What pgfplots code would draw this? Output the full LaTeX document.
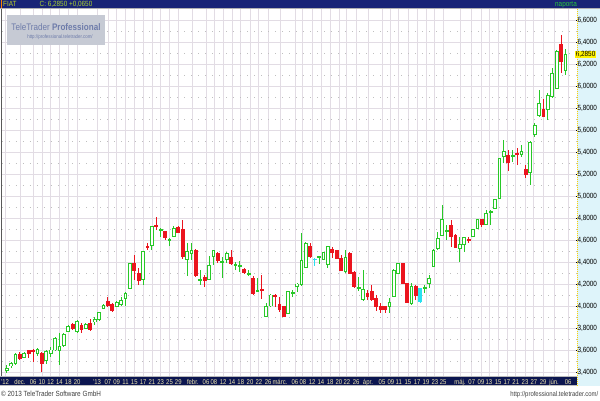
\documentclass[border=0pt]{standalone}
\usepackage{fontspec}
\setmainfont{Liberation Sans}
\newfontfamily\nf{Liberation Sans}[FakeStretch=0.85]
\usepackage{pgfplots}
\pgfplotsset{compat=1.18}
\usepackage{pgfplotstable}

\definecolor{cgreen}{RGB}{40,200,40}
\definecolor{cred}{RGB}{235,20,30}
\definecolor{ccyan}{RGB}{40,225,240}
\definecolor{hdr}{RGB}{24,36,118}
\definecolor{datebar}{RGB}{12,22,80}
\definecolor{gridc}{RGB}{226,220,228}
\definecolor{panel}{RGB}{222,244,250}
\definecolor{lbl}{RGB}{238,230,175}
\definecolor{wmbox}{RGB}{198,202,212}
\definecolor{wmtext}{RGB}{110,124,170}

\pgfplotstableread{
x o h l c
0 3.418 3.464 3.391 3.432
1 3.455 3.491 3.436 3.473
2 3.473 3.570 3.464 3.555
4 3.534 3.585 3.525 3.564
7 3.570 3.618 3.545 3.606
9 3.509 3.600 3.473 3.585
10 3.570 3.630 3.539 3.600
11 3.600 3.721 3.594 3.706
12 3.594 3.752 3.464 3.630
13 3.639 3.752 3.630 3.745
14 3.766 3.824 3.761 3.812
16 3.766 3.873 3.757 3.857
18 3.797 3.843 3.788 3.834
20 3.861 3.897 3.827 3.873
21 3.873 3.948 3.867 3.939
22 3.979 4.018 3.970 4.009
25 3.994 4.045 3.988 4.030
26 4.018 4.085 4.000 4.048
27 4.070 4.130 4.000 4.115
28 4.161 4.394 4.152 4.388
31 4.245 4.500 4.191 4.494
33 4.548 4.727 4.509 4.721
35 4.686 4.706 4.630 4.695
37 4.600 4.615 4.548 4.609
38 4.630 4.727 4.625 4.706
41 4.425 4.570 4.273 4.494
42 4.473 4.575 4.418 4.509
44 4.232 4.327 4.191 4.241
46 4.243 4.455 4.236 4.364
47 4.448 4.509 4.373 4.503
49 4.400 4.448 4.252 4.409
50 4.425 4.494 4.388 4.473
52 4.368 4.403 4.327 4.377
53 4.355 4.412 4.312 4.364
55 4.286 4.327 4.273 4.295
57 4.136 4.252 4.130 4.145
59 3.903 4.024 3.897 3.994
60 4.000 4.109 3.994 4.100
64 3.934 4.139 3.927 4.130
65 4.111 4.145 4.085 4.120
66 4.173 4.206 4.130 4.200
67 4.191 4.661 4.185 4.412
68 4.348 4.585 4.343 4.570
71 4.438 4.455 4.382 4.447
72 4.425 4.494 4.418 4.485
73 4.373 4.545 4.343 4.539
77 4.312 4.509 4.303 4.443
80 4.156 4.266 4.139 4.165
81 4.055 4.327 4.048 4.152
87 3.994 4.070 3.939 4.030
88 4.085 4.334 4.079 4.327
89 4.297 4.394 4.291 4.388
92 4.024 4.206 4.009 4.175
95 4.156 4.191 4.115 4.165
96 4.206 4.282 4.161 4.252
97 4.357 4.515 4.352 4.509
98 4.524 4.675 4.509 4.615
99 4.645 4.918 4.636 4.788
100 4.680 4.736 4.600 4.689
103 4.524 4.630 4.403 4.555
104 4.555 4.630 4.494 4.625
106 4.630 4.703 4.625 4.697
107 4.706 4.794 4.700 4.788
109 4.745 4.873 4.739 4.843
110 4.853 4.873 4.736 4.862
111 4.888 4.975 4.882 4.970
112 4.979 5.348 4.973 5.343
113 5.355 5.509 5.300 5.409
115 5.359 5.418 5.312 5.368
117 5.373 5.464 5.355 5.409
119 5.218 5.500 5.100 5.482
120 5.555 5.661 5.539 5.645
121 5.736 5.964 5.721 5.843
123 5.782 5.936 5.691 5.918
124 5.903 6.161 5.891 6.115
125 5.979 6.327 5.976 6.312
127 6.145 6.334 6.100 6.285
}\up

\pgfplotstableread{
x o h l c
3 3.555 3.585 3.509 3.525
5 3.594 3.600 3.527 3.570
6 3.600 3.606 3.494 3.585
8 3.564 3.585 3.397 3.479
15 3.834 3.843 3.782 3.797
17 3.827 3.848 3.752 3.788
19 3.843 3.879 3.775 3.782
23 4.039 4.085 3.994 4.000
24 4.018 4.030 3.948 3.957
29 4.388 4.464 4.236 4.327
30 4.297 4.345 4.191 4.236
32 4.545 4.575 4.509 4.534
34 4.736 4.812 4.691 4.721
36 4.675 4.685 4.600 4.621
39 4.712 4.727 4.661 4.670
40 4.697 4.782 4.425 4.448
43 4.509 4.515 4.266 4.273
45 4.257 4.282 4.170 4.236
48 4.479 4.494 4.388 4.418
51 4.443 4.509 4.373 4.382
54 4.334 4.343 4.291 4.303
56 4.252 4.273 4.100 4.115
58 4.152 4.282 4.061 4.139
61 4.100 4.109 3.988 4.085
62 4.018 4.085 3.948 3.964
63 3.994 4.000 3.903 3.909
69 4.545 4.570 4.434 4.448
74 4.515 4.539 4.434 4.485
75 4.503 4.509 4.425 4.434
76 4.434 4.464 4.321 4.327
78 4.479 4.494 4.291 4.297
79 4.303 4.321 4.161 4.175
82 4.115 4.145 4.055 4.085
83 4.130 4.191 4.045 4.055
84 4.064 4.100 3.955 3.991
85 3.994 4.024 3.934 3.970
86 3.991 4.000 3.934 3.964
90 4.388 4.394 4.200 4.206
91 4.206 4.212 4.024 4.030
93 4.175 4.191 4.055 4.091
101 4.736 4.782 4.539 4.630
102 4.645 4.652 4.527 4.534
105 4.606 4.625 4.570 4.594
108 4.788 4.794 4.721 4.745
114 5.364 5.418 5.227 5.309
116 5.382 5.434 5.282 5.373
118 5.243 5.282 5.164 5.191
122 5.782 5.879 5.715 5.727
126 6.373 6.464 6.115 6.220
}\down

\pgfplotstableread{
x o h l c
70 4.425 4.434 4.364 4.425
94 4.161 4.164 4.030 4.039
}\flat

\begin{document}
\begin{tikzpicture}
\useasboundingbox (0pt,0pt) rectangle (600pt,400pt);
\fill[white] (0pt,0pt) rectangle (600pt,400pt);
\fill[panel] (577pt,14pt) rectangle (600pt,391.5pt);
\fill[datebar] (0pt,14pt) rectangle (577pt,24pt);
\draw[gray!55, line width=0.6pt] (0pt,23.7pt) -- (577pt,23.7pt);
\draw[gray!50, line width=0.5pt] (0pt,14.3pt) -- (577pt,14.3pt);
\begin{axis}[
  at={(2pt,24pt)}, anchor=south west,
  scale only axis, width=575pt, height=367.5pt,
  xmin=-1.068, xmax=129.61, ymin=3.3636, ymax=6.7045,
  axis line style={draw=none},
  xtick={-0.4,3,6,8,10,12,14,16,20.5,23,25,27,29,31,33,35,37,39,42.3,45.3,47.1,49.2,51.2,53.2,55.3,57.3,59.4,62.1,65.5,67.3,69.4,71.4,73.5,75.5,77.3,79.4,82.1,85.3,87.3,89.1,91.2,93.3,95.3,97.3,99.2,103,105.7,107.8,109.6,111.7,113.7,115.7,117.8,119.8,121.9,124.4,127.6},
  xticklabels={’12,dec.,06,10,12,14,18,20,’13,07,09,11,15,17,21,23,25,29,febr.,06,08,12,14,18,20,22,26,márc.,06,08,12,14,18,20,22,26,ápr.,05,09,11,15,17,19,23,25,máj.,07,09,13,15,17,21,23,27,29,jún.,06},
  xtick style={draw=none},
  xticklabel style={font=\nf\fontsize{7}{8}\selectfont, text=lbl, anchor=base, yshift=-8.6pt},
  ytick={3.4,3.6,3.8,4.0,4.2,4.4,4.6,4.8,5.0,5.2,5.4,5.6,5.8,6.0,6.2,6.4,6.6},
  minor ytick={3.5,3.7,3.9,4.1,4.3,4.5,4.7,4.9,5.1,5.3,5.5,5.7,5.9,6.1,6.3,6.5},
  yticklabel pos=right, ytick pos=right,
  yticklabel style={font=\nf\fontsize{7.5}{8}\selectfont, text=black, anchor=west, xshift=-3pt,
    /pgf/number format/fixed, /pgf/number format/fixed zerofill,
    /pgf/number format/precision=4, /pgf/number format/use comma,
    /pgf/number format/assume math mode=true},
  ytick style={black, line width=0.7pt}, major tick length=1.2pt, minor tick length=0pt,
  xmajorgrids, ymajorgrids, yminorgrids,
  major grid style={gridc, line width=0.7pt},
  minor grid style={gray!50, line width=0.6pt, dash pattern=on 0.6pt off 6.4pt},
  extra y ticks={6.285},
  extra y tick style={grid=none, yticklabel style={fill=yellow, inner sep=0.6pt, xshift=1pt}},
]
% wicks
\addplot[forget plot, draw=none, mark=none, error bars/.cd, y dir=both, y explicit, error mark=none,
  error bar style={draw=cgreen, line width=1pt}]
  table[x=x, y expr={(\thisrow{h}+\thisrow{l})/2}, y error expr={(\thisrow{h}-\thisrow{l})/2}] {\up};
\addplot[forget plot, draw=none, mark=none, error bars/.cd, y dir=both, y explicit, error mark=none,
  error bar style={draw=cred, line width=1pt}]
  table[x=x, y expr={(\thisrow{h}+\thisrow{l})/2}, y error expr={(\thisrow{h}-\thisrow{l})/2}] {\down};
\addplot[forget plot, draw=none, mark=none, error bars/.cd, y dir=both, y explicit, error mark=none,
  error bar style={draw=ccyan, line width=1pt}]
  table[x=x, y expr={(\thisrow{h}+\thisrow{l})/2}, y error expr={(\thisrow{h}-\thisrow{l})/2}] {\flat};
% bodies
\addplot[forget plot, draw=none, mark=none, error bars/.cd, y dir=both, y explicit, error mark=none,
  error bar style={draw=cgreen, line width=3.8pt, line cap=butt}]
  table[x=x, y expr={(\thisrow{o}+\thisrow{c})/2}, y error expr={abs(\thisrow{c}-\thisrow{o})/2+0.0045}] {\up};
\addplot[forget plot, draw=none, mark=none, error bars/.cd, y dir=both, y explicit, error mark=none,
  error bar style={draw=white, line width=1.8pt, line cap=butt}]
  table[x=x, y expr={(\thisrow{o}+\thisrow{c})/2}, y error expr={max(abs(\thisrow{c}-\thisrow{o})/2-0.0045,0)}] {\up};
\addplot[forget plot, draw=none, mark=none, error bars/.cd, y dir=both, y explicit, error mark=none,
  error bar style={draw=cred, line width=3.8pt, line cap=butt}]
  table[x=x, y expr={(\thisrow{o}+\thisrow{c})/2}, y error expr={abs(\thisrow{c}-\thisrow{o})/2+0.0045}] {\down};
\addplot[forget plot, draw=none, mark=none, error bars/.cd, y dir=both, y explicit, error mark=none,
  error bar style={draw=ccyan, line width=3.8pt, line cap=butt}]
  table[x=x, y expr={(\thisrow{o}+\thisrow{c})/2}, y error expr={abs(\thisrow{c}-\thisrow{o})/2+0.0045}] {\flat};
\end{axis}
% frame pieces
\draw[gray!70!black, line width=0.8pt] (1.2pt,24pt) -- (1.2pt,391.5pt);
\draw[yellow!70!orange, line width=0.6pt, dash pattern=on 0.8pt off 1.2pt] (577pt,14pt) -- (577pt,391.5pt);
% header
\fill[hdr] (0pt,391.5pt) rectangle (600pt,400pt);
\draw[gray!60, line width=0.5pt] (0pt,391.6pt) -- (600pt,391.6pt);
\draw[orange, line width=0.8pt] (1.5pt,391.5pt) -- (1.5pt,400pt);
\node[anchor=base west, inner sep=0pt, text={rgb,255:red,190;green,210;blue,40}, font=\nf\fontsize{7.5}{8}\selectfont] at (3pt,393.3pt) {FIAT};
\node[anchor=base west, inner sep=0pt, text={rgb,255:red,170;green,210;blue,50}, font=\nf\fontsize{7.5}{8}\selectfont] at (39.5pt,393.3pt) {C: 6,2850 +0,0650};
\node[anchor=base east, inner sep=0pt, text={rgb,255:red,40;green,200;blue,60}, font=\nf\fontsize{7.5}{8}\selectfont] at (577pt,393.3pt) {naporta};
% watermark
\fill[wmbox] (7pt,355pt) rectangle (105pt,385pt);
\node[anchor=base, inner sep=0pt, text=wmtext, font=\nf\fontsize{9.5}{11}\selectfont] at (56pt,369.5pt) {TeleTrader \textbf{Professional}};
\node[anchor=base, inner sep=0pt, text=wmtext, font=\nf\fontsize{5.2}{6}\selectfont] at (60pt,361.5pt) {http://professional.teletrader.com/};
% footer
\node[anchor=base west, inner sep=0pt, text=black!75, font=\nf\fontsize{7.5}{8}\selectfont] at (1pt,4pt) {© 2013 TeleTrader Software GmbH};
\node[anchor=base east, inner sep=0pt, text=black!75, font=\nf\fontsize{7}{8}\selectfont] at (598.5pt,4pt) {http://professional.teletrader.com/};
\end{tikzpicture}
\end{document}
